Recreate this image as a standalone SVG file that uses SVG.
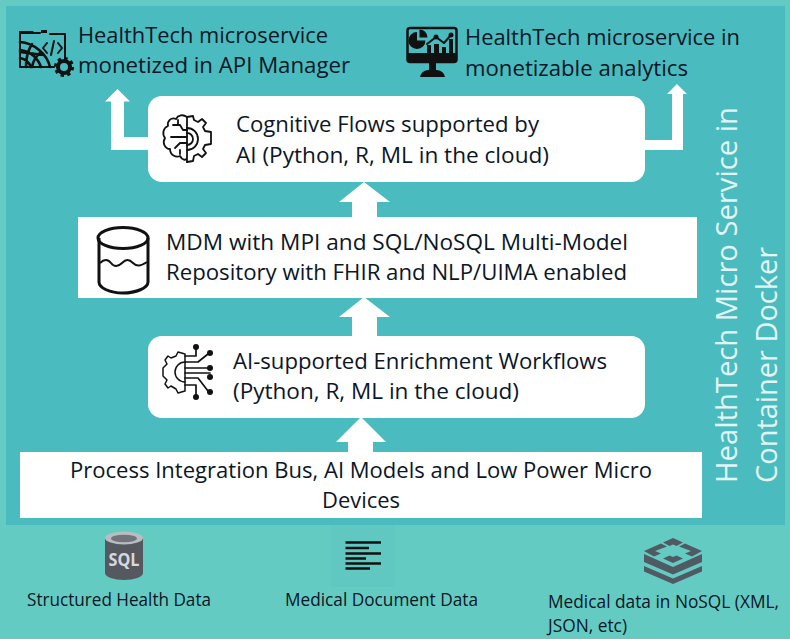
<svg xmlns="http://www.w3.org/2000/svg" width="790" height="639" viewBox="0 0 790 639">
<style>
text{font-family:"Open Sans","Noto Sans","Liberation Sans",sans-serif;fill:#0b1626}
.m{font-size:21.500px}
.s{font-size:18px}
.v{font-size:30px;fill:#e2f5f4}
.box{fill:#fff}
.arrow{fill:#fff}
.ln{fill:none;stroke:#111;stroke-width:2;stroke-linecap:round;stroke-linejoin:round}
.dot{fill:#111}
</style>
<rect id="background" width="790" height="639" fill="#64cbc3"/>
<rect id="container" x="6" y="6" width="779" height="519" fill="#4abbbe"/>
<g id="connectors">
<path class="arrow" d="M148 137H124V101.500H130L117.500 89L105 101.500H111V150H148Z"/>
<path class="arrow" d="M645 140H672V94H667L677 84L687 94H683V150H645Z"/>
<path class="arrow" d="M364 182L390 202H377V218H352V202H339Z"/>
<path class="arrow" d="M364 297L390 317H377V337H352V317H339Z"/>
<path class="arrow" d="M361 417L386 442H373V453H348V442H336Z"/>
</g>
<g id="node-api">
<g>
<path class="ln" d="M20 67V33H40M50 34H65V60M20 67H54"/>
<path d="M19 31h14l2 3h-16zM41 30h6v3h-6z" fill="#111"/>
<path class="ln" style="stroke-width:2.600" d="M20 42C34 43 47 54 50 67M20 50C30 51 38 58 41 67M20 58C25 59 29 62 31 67M32 44C28 50 26 58 26 67M41 52C36 56 33 61 32 67M20 52L44 55"/>
<path class="ln" d="M47 43L43 48L47 53M58 43L62 48L58 53M54 41L51 55"/>
<circle cx="64" cy="67" r="6" fill="none" stroke="#111" stroke-width="4"/>
<circle cx="64" cy="67" r="8.700" fill="none" stroke="#111" stroke-width="2.800" stroke-dasharray="3.400 3.430"/>
</g>
<text class="m" x="78" y="43" textLength="250" lengthAdjust="spacingAndGlyphs">HealthTech microservice</text>
<text class="m" x="78" y="73" textLength="272" lengthAdjust="spacingAndGlyphs">monetized in API Manager</text>
</g>
<g id="node-analytics">
<g>
<rect x="407.500" y="28" width="49" height="34" rx="2.500" fill="none" stroke="#111" stroke-width="2.500"/>
<rect x="407" y="53" width="50" height="9" fill="#111"/>
<path d="M429 63h7v7h-7z" fill="#111"/>
<path d="M420 77q1-6 8-7h9q7 1 8 7z" fill="#111"/>
<path d="M417 32a8.500 8.500 0 1 0 8.500 8.500h-8.500z" fill="#111"/>
<path d="M419.500 29.500a8 8 0 0 1 8 8h-8z" fill="#111"/>
<path d="M427 45h4v9h-4zM434 44h5v10h-5zM442 47h4v7h-4zM449 39h4v15h-4z" fill="#111"/>
<path class="ln" d="M427 44L436 37L444 43L451 35"/>
<circle class="dot" cx="451" cy="35" r="2.500"/><circle class="dot" cx="436" cy="37" r="2.500"/>
</g>
<text class="m" x="465" y="45" textLength="275" lengthAdjust="spacingAndGlyphs">HealthTech microservice in</text>
<text class="m" x="465" y="76" textLength="223" lengthAdjust="spacingAndGlyphs">monetizable analytics</text>
</g>
<g id="node-cognitive">
<rect class="box" x="148" y="96" width="497" height="86" rx="14"/>
<g>
<path class="ln" style="stroke-width:1.800" d="M187 117V162M187 117C183 114 178 115 176 119C171 117 167 121 168 126C163 128 162 134 165 138C162 143 165 149 170 149C170 155 176 158 180 156C182 160 186 161 187 158"/>
<path class="ln" style="stroke-width:1.800" d="M187 117L193 116L194 120L198 122L202 119L206 123L203 127L205 131L211 132V144L205 145L203 149L206 153L202 157L198 154L194 156L193 161L187 162"/>
<path class="ln" style="stroke-width:1.800" d="M187 128A11 11 0 0 1 187 150M187 133A6 6 0 0 1 187 145M173 125H180L183 130H187M171 137H187M175 148L180 143H187M178 120V125M180 150V154"/>
</g>
<text class="m" x="236" y="132" textLength="303" lengthAdjust="spacingAndGlyphs">Cognitive Flows supported by</text>
<text class="m" x="236" y="163" textLength="313" lengthAdjust="spacingAndGlyphs">AI (Python, R, ML in the cloud)</text>
</g>
<g id="node-mdm">
<rect class="box" x="78" y="217" width="619" height="81"/>
<g fill="none" stroke="#111" stroke-width="3">
<ellipse cx="123" cy="238" rx="25" ry="10.500"/>
<path d="M99 238V282C99 288 110 293 123 293C136 293 148 288 148 282V238"/>
<path stroke-width="2" d="M100 263C104 259 108 259 111 263S118 267 122 263S129 259 133 263S141 266 147 262"/>
</g>
<text class="m" x="166" y="250" textLength="462" lengthAdjust="spacingAndGlyphs">MDM with MPI and SQL/NoSQL Multi-Model</text>
<text class="m" x="166" y="280" textLength="461" lengthAdjust="spacingAndGlyphs">Repository with FHIR and NLP/UIMA enabled</text>
</g>
<g id="node-enrichment">
<rect class="box" x="148" y="336" width="497" height="82" rx="14"/>
<g>
<path class="ln" style="stroke-width:1.500" d="M185 354L178 352L176 356L171 358L168 356L165 360L167 364L163 368V376L167 380L165 384L168 388L171 386L176 389L178 393L185 391Z"/>
<path class="ln" style="stroke-width:1.500" d="M185 362A10 10 0 0 0 185 382"/>
<path class="ln" style="stroke-width:1.700" d="M185 356H196V347M185 362H198L208 354M185 368H210M185 373H210M185 378H198L208 391M185 385H196V397"/>
<circle class="dot" cx="196" cy="347" r="3"/><circle class="dot" cx="210" cy="353" r="3"/><circle class="dot" cx="210" cy="368" r="3"/><circle class="dot" cx="210" cy="377" r="3"/><circle class="dot" cx="210" cy="392" r="3"/><circle class="dot" cx="196" cy="397" r="3"/>
</g>
<text class="m" x="233" y="369" textLength="374" lengthAdjust="spacingAndGlyphs">AI-supported Enrichment Workflows</text>
<text class="m" x="233" y="399" textLength="286" lengthAdjust="spacingAndGlyphs">(Python, R, ML in the cloud)</text>
</g>
<g id="node-bus">
<rect class="box" x="20" y="452" width="682" height="66"/>
<text class="m" x="70" y="478" textLength="582" lengthAdjust="spacingAndGlyphs">Process Integration Bus, AI Models and Low Power Micro</text>
<text class="m" x="322" y="508" textLength="78" lengthAdjust="spacingAndGlyphs">Devices</text>
</g>
<g id="node-title">
<text class="v" transform="translate(737 483) rotate(-90)" textLength="376" lengthAdjust="spacingAndGlyphs">HealthTech Micro Service in</text>
<text class="v" transform="translate(777 483) rotate(-90)" textLength="236" lengthAdjust="spacingAndGlyphs">Container Docker</text>
</g>
<g id="node-sql">
<path d="M105 538V573C105 577 114 580 124 580C134 580 143 577 143 573V538Z" fill="#55595f"/>
<ellipse cx="124" cy="538" rx="19" ry="6.500" fill="#b9bcc1"/>
<ellipse cx="124" cy="538.500" rx="13" ry="3.800" fill="#71757b"/>
<text x="124" y="566" text-anchor="middle" style="font-size:17px;font-weight:700;fill:#d6d8db" textLength="31" lengthAdjust="spacingAndGlyphs">SQL</text>
<text class="s" x="27" y="606" textLength="184" lengthAdjust="spacingAndGlyphs">Structured Health Data</text>
</g>
<g id="node-doc">
<rect x="331" y="525" width="64" height="62" fill="#60c8c0"/>
<path d="M345.500 542.500H381M345.500 548H369M345.500 553.500H381M345.500 558.500H366M345.500 563.500H381M345.500 568.500H370" stroke="#111" stroke-width="2.700" fill="none"/>
<text class="s" x="285" y="606" textLength="193" lengthAdjust="spacingAndGlyphs">Medical Document Data</text>
</g>
<g id="node-nosql">
<g fill="#4f5a62">
<path d="M673 538L683 542.500L676.500 546L673 544.500L669.500 546L663 542.500ZM644 551L661 543.500L667 546.500L655 551L661 553.500L654 556.500ZM702 551L685 543.500L679 546.500L691 551L685 553.500L692 556.500ZM673 563L663 558.500L669.500 555.500L673 557L676.500 555.500L683 558.500Z"/>
<path d="M644 554L673 567L702 554V562L673 574.500L644 562Z"/>
<path d="M644 566L673 578.500L702 566V571.500L673 584L644 571.500Z"/>
</g>
<text class="s" x="548" y="608" textLength="231" lengthAdjust="spacingAndGlyphs">Medical data in NoSQL (XML,</text>
<text class="s" x="548" y="632" textLength="79" lengthAdjust="spacingAndGlyphs">JSON, etc)</text>
</g>
</svg>
